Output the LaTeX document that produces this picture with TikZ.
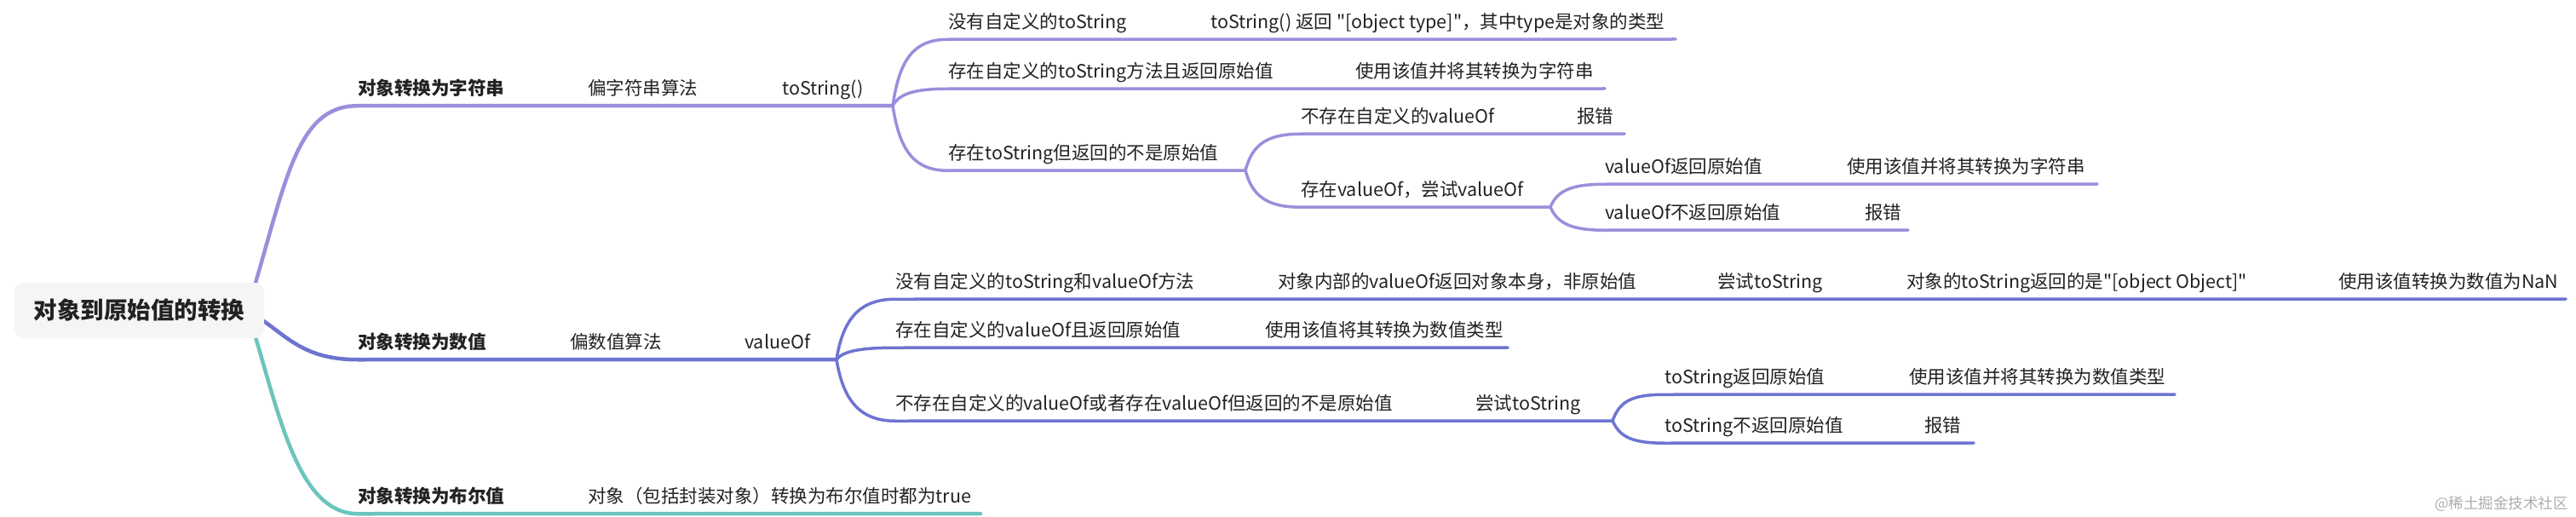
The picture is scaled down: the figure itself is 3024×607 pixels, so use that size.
\documentclass[tikz,border=0pt]{standalone}
\usepackage{fontspec}
\setmainfont{Noto Sans CJK SC}[Ligatures=TeXOff]
\usetikzlibrary{backgrounds}
\definecolor{cpur}{HTML}{9C8EDB}
\definecolor{cblu}{HTML}{6D74D0}
\definecolor{cteal}{HTML}{6CC4BE}
\definecolor{ctext}{HTML}{222222}
\definecolor{crootbg}{HTML}{F5F5F5}
\definecolor{cwm}{HTML}{ADADAD}
\begin{document}
\begin{tikzpicture}[x=1pt,y=-1pt,
  tx/.style={anchor=west, inner xsep=0pt, inner ysep=10.25pt, text height=19pt, text depth=2.6pt, text=ctext, font=\fontsize{21.5}{24}\selectfont},
  txb/.style={tx, font=\fontsize{21.5}{24}\selectfont\bfseries},
  lone/.style={line width=4.5pt, line cap=round},
  ltwo/.style={line width=3.5pt, line cap=round},
]
\useasboundingbox (0,0) rectangle (3024,607);

% root
\node[fill=crootbg, rounded corners=10pt, minimum width=293pt, minimum height=65pt, inner sep=0pt, text=ctext, font=\fontsize{27.5}{30}\selectfont\bfseries] (root) at (163.5,364.5) {对象到原始值的转换};

% branch 1
\node[txb] (b1a) at (420,103) {对象转换为字符串};
\node[tx] (b1b) at (690,103) {偏字符串算法};
\node[tx] (b1c) at (918,103) {toString()};
\coordinate (s1) at (1048,124);

\node[tx] (c1a) at (1113,25) {没有自定义的toString};
\node[tx] (c1b) at (1421,25) {toString() 返回 "[object type]"，其中type是对象的类型};
\coordinate (e1) at (1967,46);

\node[tx] (c2a) at (1113,83) {存在自定义的toString方法且返回原始值};
\node[tx] (c2b) at (1591,83) {使用该值并将其转换为字符串};
\coordinate (e2) at (1884,104);

\node[tx] (c3a) at (1113,179) {存在toString但返回的不是原始值};
\coordinate (s3) at (1462,200);

\node[tx] (c31a) at (1527,136) {不存在自定义的valueOf};
\node[tx] (c31b) at (1851,136) {报错};
\coordinate (e31) at (1907,157);

\node[tx] (c32a) at (1527,222) {存在valueOf，尝试valueOf};
\coordinate (s32) at (1820,243);

\node[tx] (c321a) at (1884,195) {valueOf返回原始值};
\node[tx] (c321b) at (2168,195) {使用该值并将其转换为字符串};
\coordinate (e321) at (2462,216);

\node[tx] (c322a) at (1884,249) {valueOf不返回原始值};
\node[tx] (c322b) at (2189,249) {报错};
\coordinate (e322) at (2240,270);

% branch 2
\node[txb] (b2a) at (420,401) {对象转换为数值};
\node[tx] (b2b) at (669,401) {偏数值算法};
\node[tx] (b2c) at (874,401) {valueOf};
\coordinate (s2) at (982,422);

\node[tx] (c21a) at (1051,330) {没有自定义的toString和valueOf方法};
\node[tx] (c21b) at (1500,330) {对象内部的valueOf返回对象本身，非原始值};
\node[tx] (c21c) at (2016,330) {尝试toString};
\node[tx] (c21d) at (2238,330) {对象的toString返回的是"[object Object]"};
\node[tx] (c21e) at (2745,330) {使用该值转换为数值为NaN};
\coordinate (e21) at (3012,351);

\node[tx] (c22a) at (1051,387) {存在自定义的valueOf且返回原始值};
\node[tx] (c22b) at (1485,387) {使用该值将其转换为数值类型};
\coordinate (e22) at (1770,408);

\node[tx] (c23a) at (1051,473) {不存在自定义的valueOf或者存在valueOf但返回的不是原始值};
\node[tx] (c23b) at (1732,473) {尝试toString};
\coordinate (s23) at (1893,494);

\node[tx] (c231a) at (1954,442) {toString返回原始值};
\node[tx] (c231b) at (2241,442) {使用该值并将其转换为数值类型};
\coordinate (e231) at (2553,463);

\node[tx] (c232a) at (1954,499) {toString不返回原始值};
\node[tx] (c232b) at (2259,499) {报错};
\coordinate (e232) at (2317,520);

% branch 3
\node[txb] (b3a) at (420,582) {对象转换为布尔值};
\node[tx] (b3b) at (690,582) {对象（包括封装对象）转换为布尔值时都为true};
\coordinate (e3) at (1151,603);

% watermark
\node[anchor=west, inner sep=0pt, text=cwm, font=\fontsize{17.5}{20}\selectfont] (wm) at (2858,592) {@稀土掘金技术社区};

\begin{pgfonlayer}{background}
% branch 1
\draw[lone,cpur] ([xshift=-20pt]root.east) .. controls (335,220) and (345,124) .. (b1a.south west) -- (s1);
\draw[ltwo,cpur] (s1) .. controls +(8,-55) and +(-40,0) .. (c1a.south west) -- (e1);
\draw[ltwo,cpur] (s1) .. controls +(8,-14) and +(-40,0) .. (c2a.south west) -- (e2);
\draw[ltwo,cpur] (s1) .. controls +(8,53) and +(-40,0) .. (c3a.south west) -- (s3);
\draw[ltwo,cpur] (s3) .. controls +(8,-30) and +(-40,0) .. (c31a.south west) -- (e31);
\draw[ltwo,cpur] (s3) .. controls +(8,30) and +(-40,0) .. (c32a.south west) -- (s32);
\draw[ltwo,cpur] (s32) .. controls +(8,-19) and +(-40,0) .. (c321a.south west) -- (e321);
\draw[ltwo,cpur] (s32) .. controls +(8,19) and +(-40,0) .. (c322a.south west) -- (e322);
% branch 2
\draw[lone,cblu] ([xshift=-20pt]root.east) .. controls (335,390) and (350,422) .. (b2a.south west) -- (s2);
\draw[ltwo,cblu] (s2) .. controls +(8,-50) and +(-40,0) .. (c21a.south west) -- (e21);
\draw[ltwo,cblu] (s2) .. controls +(8,-10) and +(-40,0) .. (c22a.south west) -- (e22);
\draw[ltwo,cblu] (s2) .. controls +(8,50) and +(-40,0) .. (c23a.south west) -- (s23);
\draw[ltwo,cblu] (s23) .. controls +(8,-22) and +(-40,0) .. (c231a.south west) -- (e231);
\draw[ltwo,cblu] (s23) .. controls +(8,18) and +(-40,0) .. (c232a.south west) -- (e232);
% branch 3
\draw[lone,cteal] ([xshift=-20pt]root.east) .. controls (325,470) and (345,603) .. (b3a.south west) -- (e3);
\end{pgfonlayer}
\end{tikzpicture}
\end{document}
